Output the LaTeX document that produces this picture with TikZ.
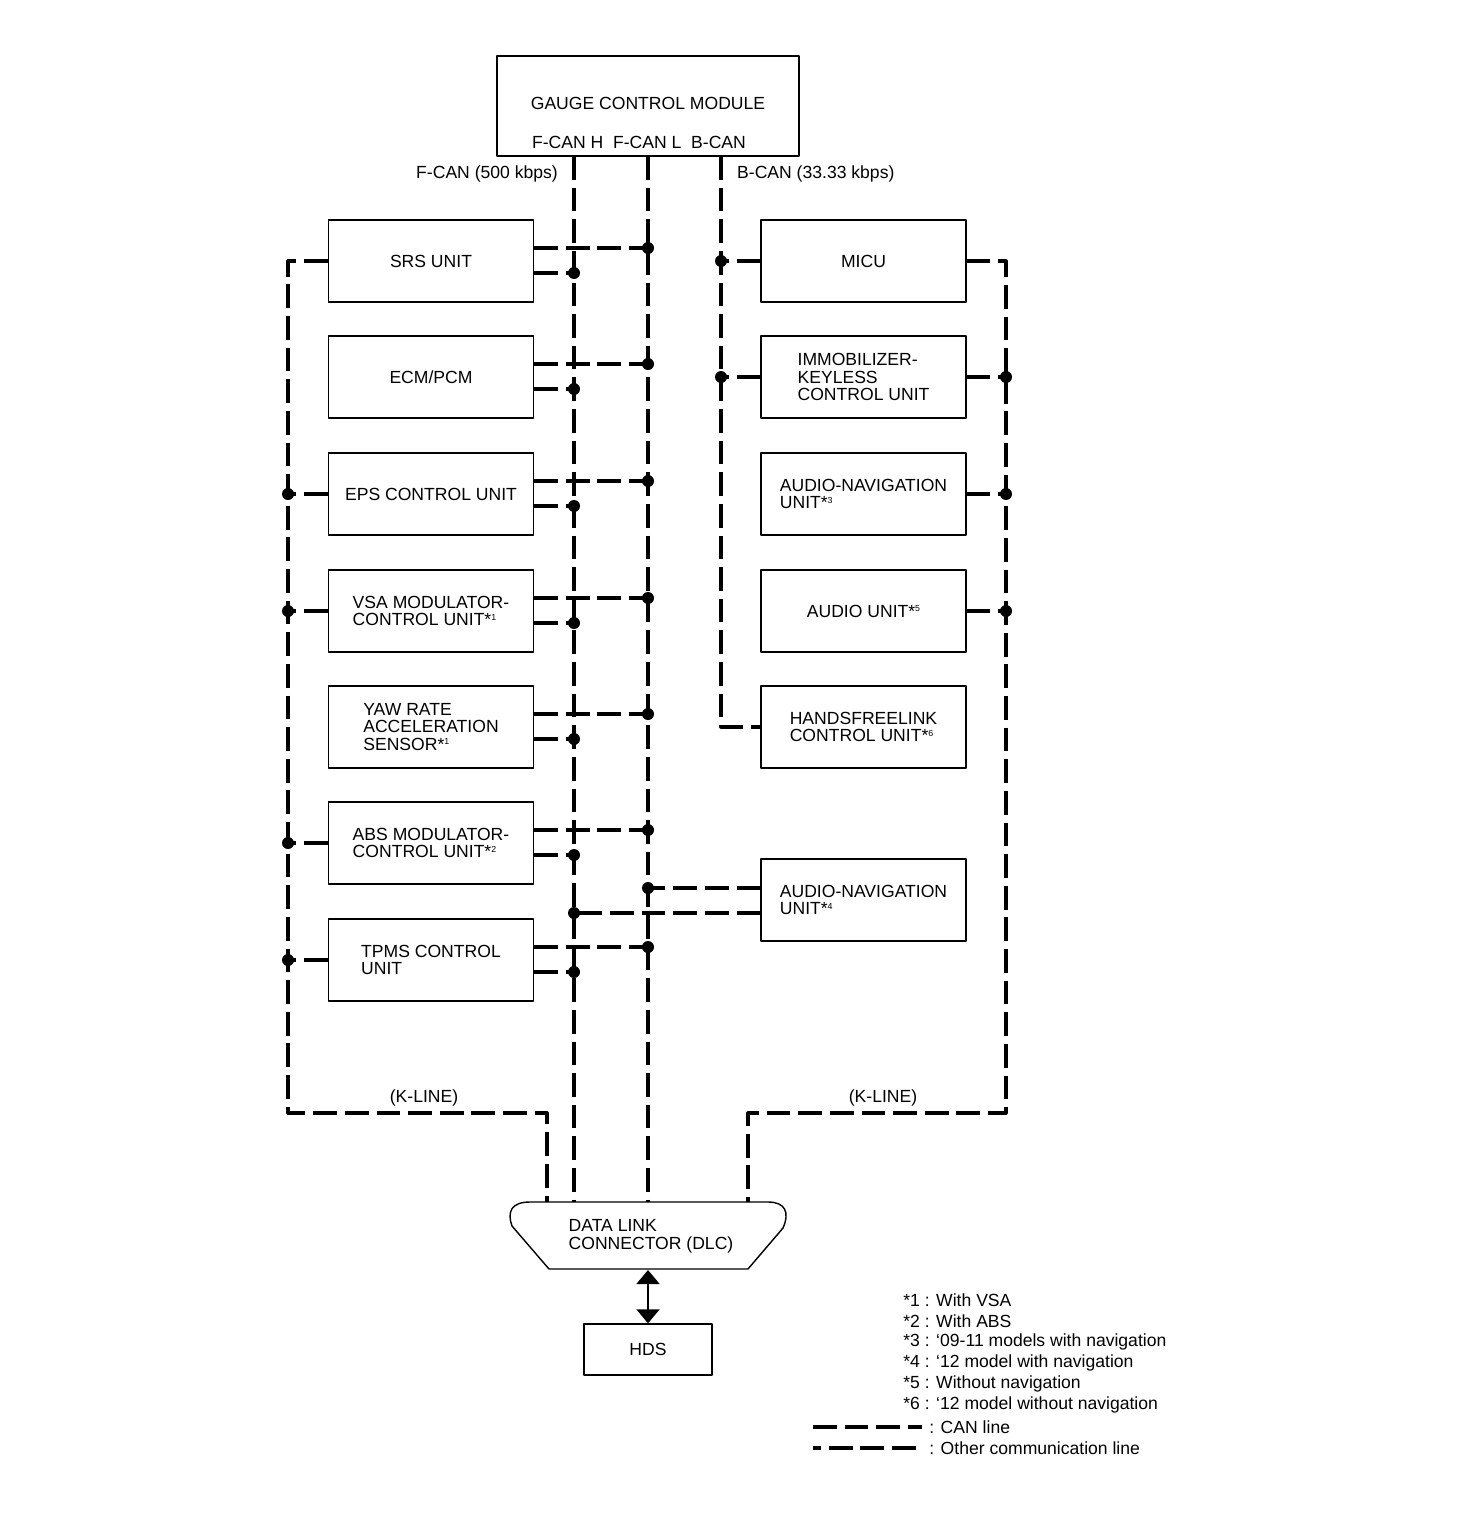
\documentclass[tikz,border=0pt]{standalone}
\usepackage{fontspec}
\setmainfont{Liberation Sans}
\usetikzlibrary{positioning,arrows.meta}
\newcommand{\fnote}[1]{*\raisebox{0.6ex}{\fontsize{5}{5}\selectfont #1}}
\begin{document}
\begin{tikzpicture}[x=0.02cm,y=-0.02cm,line join=round,font=\fontsize{10}{10}\selectfont,
	unit/.style={draw,line width=0.8pt,minimum width=4.1cm,minimum height=1.64cm,align=left,inner sep=0pt},
	bus/.style={line width=1.8pt,dash pattern=on 13.5pt off 4.5pt},
	dot/.style={fill=black,circle,inner sep=0pt,minimum size=0.24cm},
	hdstip/.tip={Triangle[width=0.46cm,length=0.28cm]}]
	\useasboundingbox (0,0) rectangle (1462,1518);
	\path 
	(574,156) coordinate (fch)
	(648,156) coordinate (fcl)
	(721,156) coordinate (bc)
	(288,1113) coordinate (klw)
	(547,1113) coordinate (kle)
	(1006,1113) coordinate (kre)
	(748,1113) coordinate (krw)
	(530,1202) coordinate (dlcn)
	(648,1270) coordinate (dlcs)
	;
	\node[draw,line width=0.8pt,minimum width=6.04cm,minimum height=2cm] (gcm) at (648,106) {};
	\node (gcmtitle) at (648,103) {GAUGE CONTROL MODULE};
	\node (gcmpins) at (639,142) {F-CAN H\ \ F-CAN L\ \ B-CAN};
	\node[anchor=east] (fcanlbl) at (564,174) {F-CAN (500 kbps)};
	\node[anchor=west] (bcanlbl) at (731,174) {B-CAN (33.33 kbps)};
	\foreach \n/\y/\t in {srs/261/{SRS UNIT},ecm/377/{ECM/PCM},eps/494/{EPS CONTROL UNIT},
		vsa/611/{VSA MODULATOR-\\CONTROL UNIT\fnote{1}},yaw/727/{YAW RATE\\ACCELERATION\\SENSOR\fnote{1}},
		abs/843/{ABS MODULATOR-\\CONTROL UNIT\fnote{2}},tpms/960/{TPMS CONTROL\\UNIT}}{
		\node[unit] (\n) at (431,\y) {\t};
	};
	\foreach \n/\y/\t in {micu/261/{MICU},immo/377/{IMMOBILIZER-\\KEYLESS\\CONTROL UNIT},
		navA/494/{AUDIO-NAVIGATION\\UNIT\fnote{3}},aud/611/{AUDIO UNIT\fnote{5}},
		hfl/727/{HANDSFREELINK\\CONTROL UNIT\fnote{6}},navB/900/{AUDIO-NAVIGATION\\UNIT\fnote{4}}}{
		\node[unit] (\n) at (863.5,\y) {\t};
	};
	\draw[line width=0.8pt] (dlcn) .. controls (511,1202) and (507,1212) .. (512,1226) -- (549,1269)
		-- (748,1269) -- (783,1228) .. controls (790,1212) and (785,1202) .. (768,1202) -- cycle;
	\node[align=left] (dlc) at (651,1236) {DATA LINK\\CONNECTOR (DLC)};
	\node[draw,line width=0.8pt,minimum width=2.56cm,minimum height=1.02cm] (hds) at (648,1349.5) {HDS};
	\draw[line width=1pt,hdstip-hdstip] (dlcs) -- (hds.north);
	\draw[bus] (fch) -- (fch |- dlcn);
	\draw[bus] (fcl) -- (fcl |- dlcn);
	\draw[bus] (bc) |- (hfl.west);
	\foreach \n in {srs,ecm,eps,vsa,yaw,abs,tpms}{
		\draw[bus] ([yshift=0.26cm]\n.east) -- ([yshift=0.26cm]\n.east -| fcl) node[dot]{};
		\draw[bus] ([yshift=-0.24cm]\n.east) -- ([yshift=-0.24cm]\n.east -| fch) node[dot]{};
	};
	\draw[bus] ([yshift=0.24cm]navB.west) -- ([yshift=0.24cm]navB.west -| fcl) node[dot]{};
	\draw[bus] ([yshift=-0.26cm]navB.west) -- ([yshift=-0.26cm]navB.west -| fch) node[dot]{};
	\foreach \n in {micu,immo}{
		\draw[bus] (\n.west) -- (\n.west -| bc) node[dot]{};
	};
	\draw[bus] (srs.west) -| (klw) -- (kle) -- (kle |- dlcn);
	\draw[bus] (micu.east) -| (kre) -- (krw) -- (krw |- dlcn);
	\foreach \n in {eps,vsa,abs,tpms}{
		\draw[bus] (\n.west) -- (\n.west -| klw) node[dot]{};
	};
	\foreach \n in {immo,navA,aud}{
		\draw[bus] (\n.east) -- (\n.east -| kre) node[dot]{};
	};
	\node (klinel) at (424,1098) {(K-LINE)};
	\node (kliner) at (883,1098) {(K-LINE)};
	\foreach \y/\t in {1300/{*1 : With VSA},1321/{*2 : With ABS},1342/{*3 : `09-11 models with navigation},
		1363/{*4 : `12 model with navigation},1384/{*5 : Without navigation},1405/{*6 : `12 model without navigation}}{
		\node[anchor=west,inner sep=0pt] at (903,\y) {\t};
	};
	\node[anchor=west,inner sep=0pt] (lgcan) at (929,1427) {: CAN line};
	\node[anchor=west,inner sep=0pt] (lgoth) at (929,1448) {: Other communication line};
	\coordinate (lgcans) at (813,1427);
	\coordinate (lgoths) at (813,1448);
	\draw[bus] (lgcans) -- ([xshift=-4pt]lgcan.west);
	\draw[bus,dash phase=9pt] (lgoths) -- ([xshift=-4pt]lgoth.west);
\end{tikzpicture}
\end{document}
